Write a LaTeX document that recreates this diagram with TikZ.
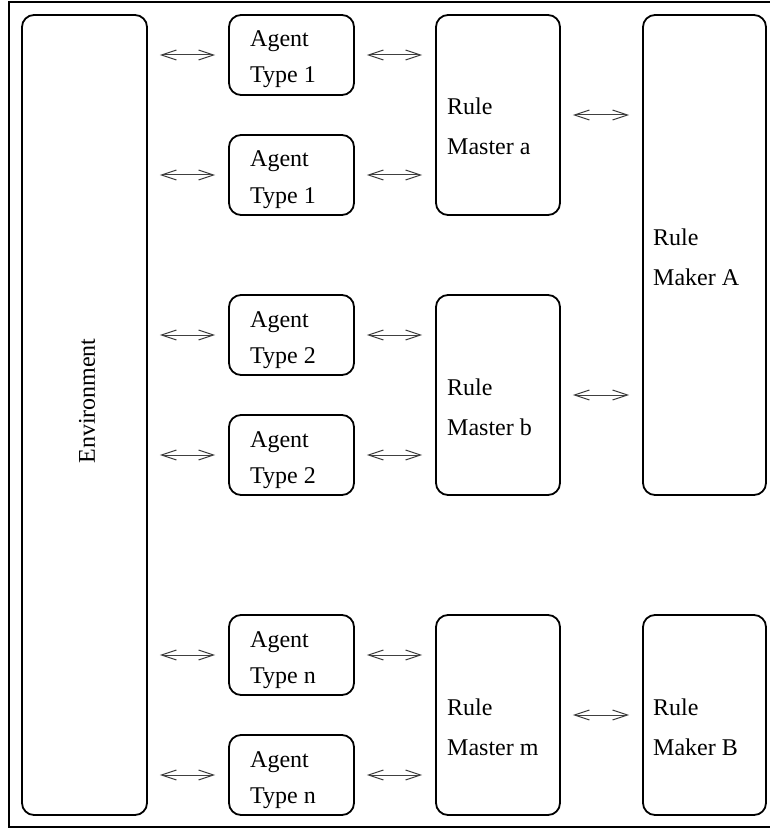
\documentclass[tikz,border=0pt]{standalone}
\usepackage{fontspec}
\setmainfont{Liberation Serif}
\usetikzlibrary{arrows.meta}
\begin{document}
\begin{tikzpicture}[x=1pt,y=-1pt,
  box/.style={draw, line width=1.8pt, rounded corners=12pt, inner sep=0pt},
  lbl/.style={anchor=base west, inner sep=0pt, font=\fontsize{24}{28}\selectfont},
  arr/.style={{Straight Barb[length=15pt,width=10pt]}-{Straight Barb[length=15pt,width=10pt]}, line width=1pt, black!75, shorten <=12pt, shorten >=13pt}]
\useasboundingbox (0,0) rectangle (769,829);
\draw[line width=2pt] (9,2) rectangle (775,827);
% boxes
\node[box, minimum width=125pt, minimum height=800pt] (env) at (84.5,415) {};
\node[lbl, anchor=center, rotate=90] (envt) at (87,401) {Environment};
\foreach \n/\c in {a1/55, a2/175, a3/335, a4/455, a5/655, a6/775}
  \node[box, minimum width=125pt, minimum height=80pt] (\n) at (291.5,\c) {};
\node[box, minimum width=124pt, minimum height=200pt] (ma) at (498,115) {};
\node[box, minimum width=124pt, minimum height=200pt] (mb) at (498,395) {};
\node[box, minimum width=124pt, minimum height=200pt] (mm) at (498,715) {};
\node[box, minimum width=123pt, minimum height=480pt] (mkA) at (704.5,255) {};
\node[box, minimum width=123pt, minimum height=200pt] (mkB) at (704.5,715) {};
% labels
\node[lbl] (t1a) at (250,47) {Agent};  \node[lbl] (t1b) at (250,83) {Type 1};
\node[lbl] (t2a) at (250,167) {Agent}; \node[lbl] (t2b) at (250,203) {Type 1};
\node[lbl] (t3a) at (250,327) {Agent}; \node[lbl] (t3b) at (250,363) {Type 2};
\node[lbl] (t4a) at (250,447) {Agent}; \node[lbl] (t4b) at (250,483) {Type 2};
\node[lbl] (t5a) at (250,647) {Agent}; \node[lbl] (t5b) at (250,683) {Type n};
\node[lbl] (t6a) at (250,767) {Agent}; \node[lbl] (t6b) at (250,803) {Type n};
\node[lbl] (maa) at (447,115) {Rule}; \node[lbl] (mab) at (447,155) {Master a};
\node[lbl] (mba) at (447,395) {Rule}; \node[lbl] (mbb) at (447,435) {Master b};
\node[lbl] (mma) at (447,715) {Rule}; \node[lbl] (mmb) at (447,755) {Master m};
\node[lbl] (kaa) at (653,245) {Rule}; \node[lbl] (kab) at (653,285) {Maker A};
\node[lbl] (kba) at (653,715) {Rule}; \node[lbl] (kbb) at (653,755) {Maker B};
% connectors
\foreach \n in {a1,a2,a3,a4,a5,a6}
  \draw[arr] (env.east |- \n.west) -- (\n.west);
\foreach \n/\m in {a1/ma,a2/ma,a3/mb,a4/mb,a5/mm,a6/mm}
  \draw[arr] (\n.east) -- (\n.east -| \m.west);
\draw[arr] (ma.east) -- (ma.east -| mkA.west);
\draw[arr] (mb.east) -- (mb.east -| mkA.west);
\draw[arr] (mm.east) -- (mkB.west);
\end{tikzpicture}
\end{document}
